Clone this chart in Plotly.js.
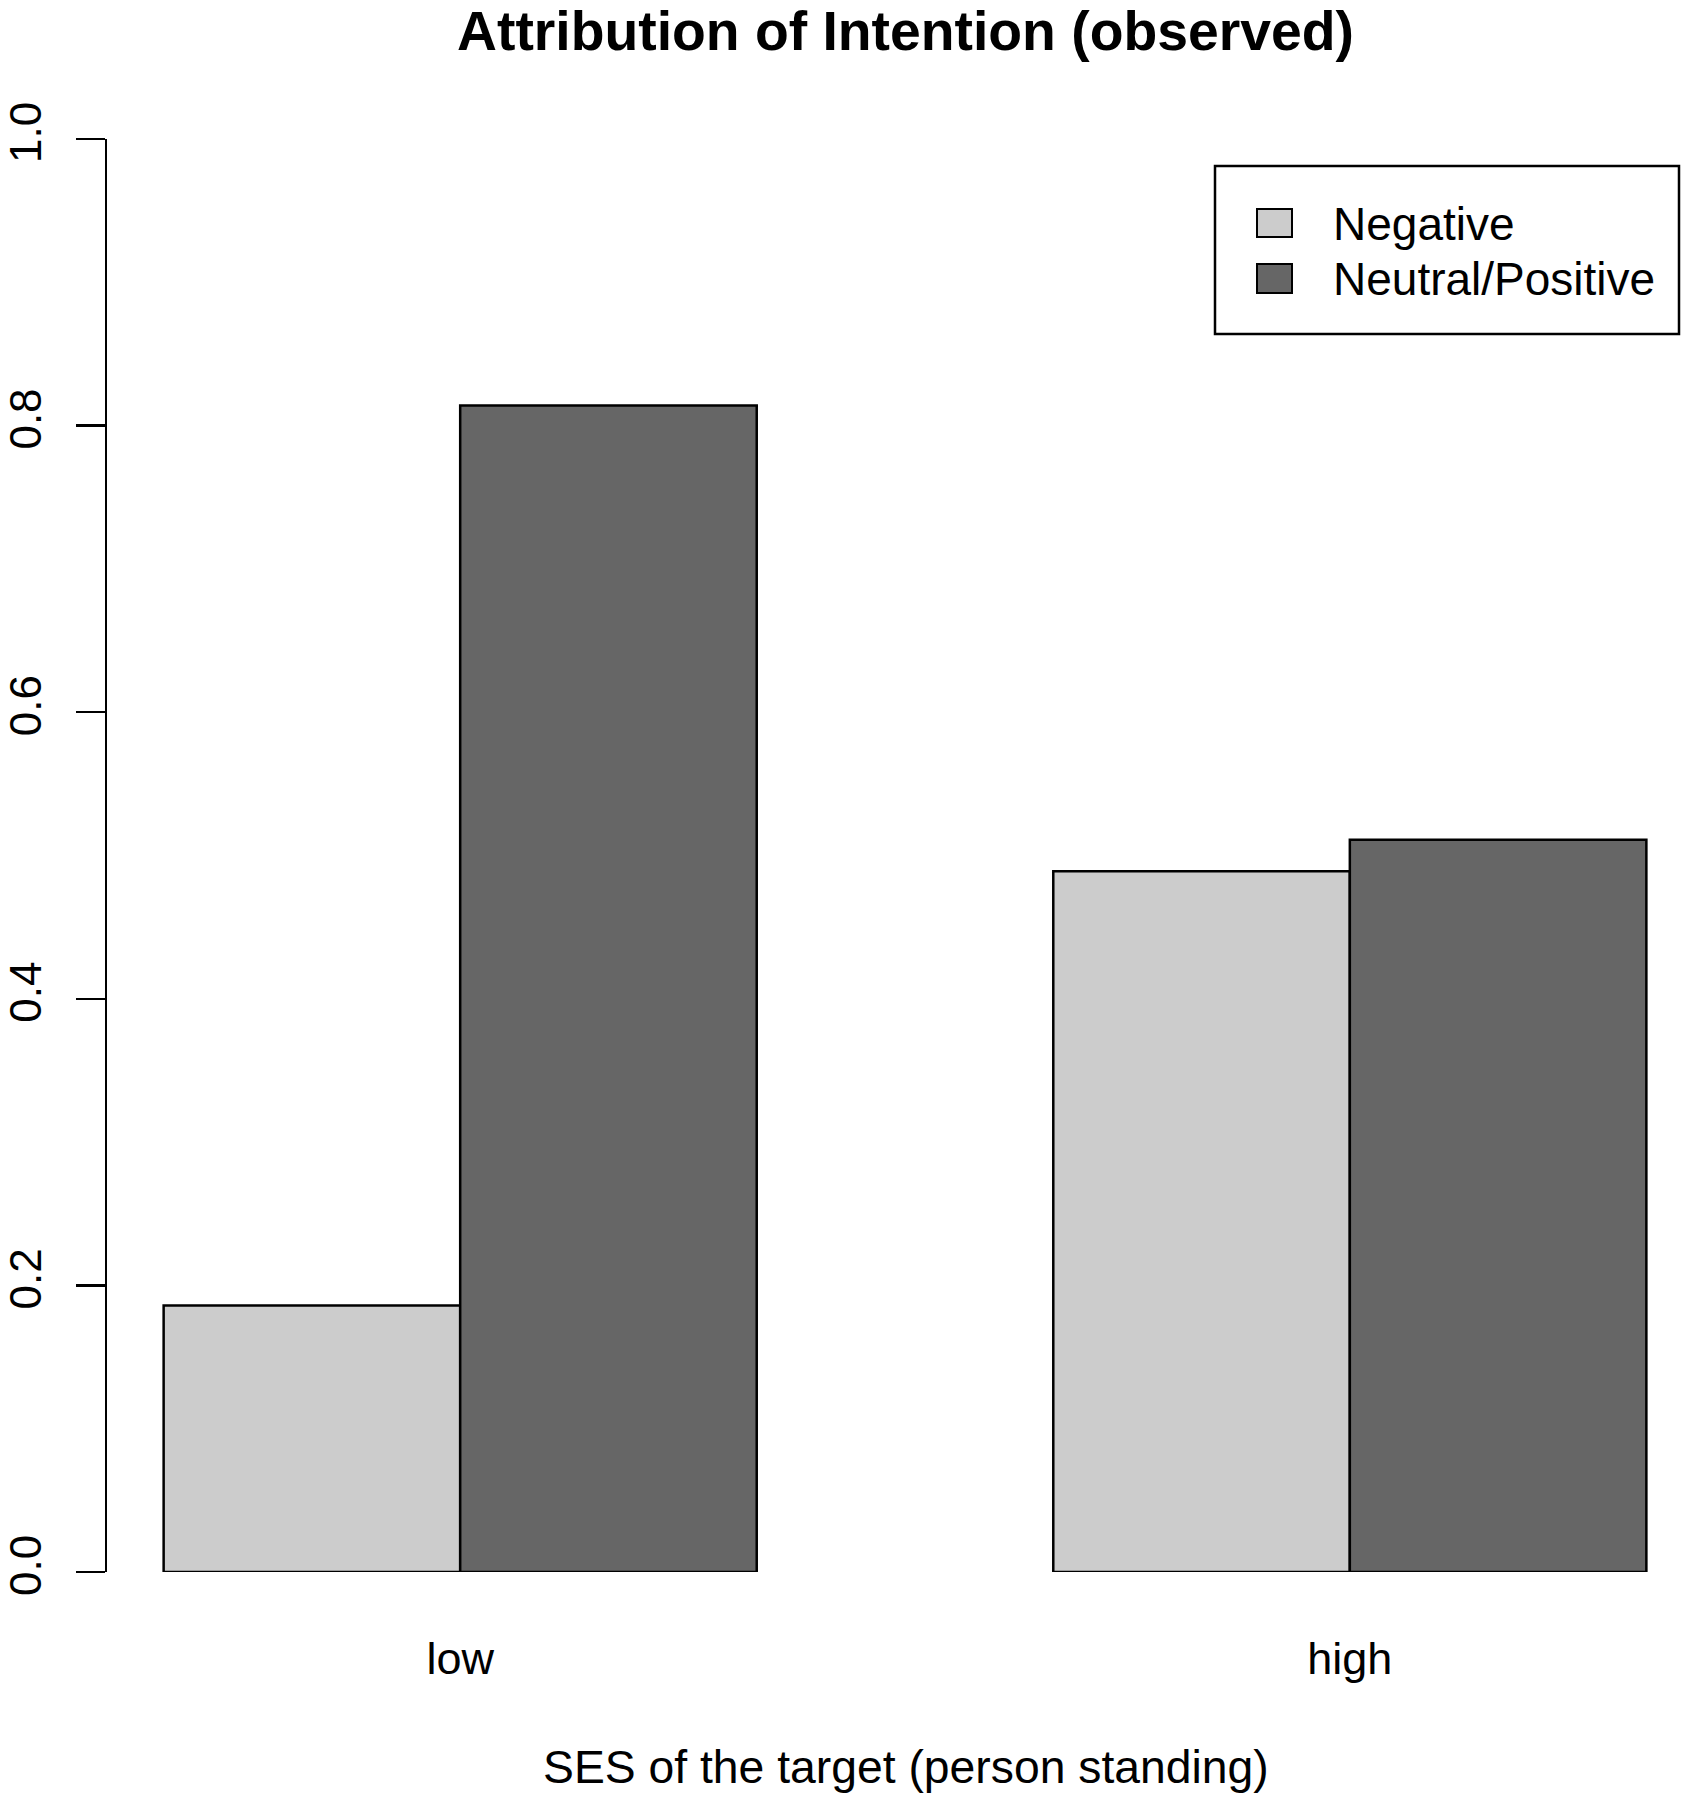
<!DOCTYPE html>
<html>
<head>
<meta charset="utf-8">
<script src="https://cdn.plot.ly/plotly-3.0.1.min.js"></script>
<style>html,body{margin:0;padding:0;background:#fff;}</style>
</head>
<body>
<div id="chart" style="width:1687px;height:1800px;"></div>
<script>
// ---- data ----
const categories = ['low', 'high'];
const seriesNames = ['Negative', 'Neutral/Positive'];
const negative = [0.186, 0.489];
const neutralPositive = [0.814, 0.511];
const seriesColors = ['#cccccc', '#666666'];
const yTickVals = [0, 0.2, 0.4, 0.6, 0.8, 1.0];
const xAxisTitle = 'SES of the target (person standing)';
const chartTitle = 'Attribution of Intention (observed)';

// ---- layout geometry (pixels) ----
const W = 1687, H = 1800;
const L = 107, R = 0, T = 139, B = 228;
const plotW = W - L - R, plotH = H - T - B;
const px = x => (x - L) / plotW;          // pixel x -> paper x
const py = y => (H - B - y) / plotH;      // pixel y -> paper y
const FONT = 'Liberation Sans, Arial, Helvetica, sans-serif';

const seriesValues = [negative, neutralPositive];
const traces = seriesNames.map((name, i) => ({
  type: 'bar',
  name: name,
  x: categories,
  y: seriesValues[i],
  marker: { color: seriesColors[i], line: { color: '#000', width: 2.5 } },
  showlegend: false,
  hoverinfo: 'x+y+name'
}));

// manual legend (R-style box)
const shapes = [{
  type: 'rect', xref: 'paper', yref: 'paper',
  x0: px(1215), x1: px(1679), y0: py(334), y1: py(166),
  line: { color: '#000', width: 2.5 }, fillcolor: '#fff', layer: 'above'
}];
const annotations = [];
const rowY = [[209, 237, 224], [264, 293, 279]];
seriesNames.forEach((name, i) => {
  shapes.push({
    type: 'rect', xref: 'paper', yref: 'paper',
    x0: px(1257), x1: px(1292), y0: py(rowY[i][1]), y1: py(rowY[i][0]),
    line: { color: '#000', width: 2 }, fillcolor: seriesColors[i], layer: 'above'
  });
  annotations.push({
    xref: 'paper', yref: 'paper', x: px(1331), y: py(rowY[i][2]),
    xanchor: 'left', yanchor: 'middle', showarrow: false,
    text: name, font: { family: FONT, size: 46, color: '#000' }
  });
});

// x-axis title placed as in the reference (centred on R's plot region)
annotations.push({
  xref: 'paper', yref: 'paper', x: px(905.5), y: py(1767),
  xanchor: 'center', yanchor: 'middle', showarrow: false,
  text: xAxisTitle, font: { family: FONT, size: 46.3, color: '#000' }
});

const layout = {
  width: W, height: H,
  margin: { l: L, r: R, t: T, b: B, pad: 0 },
  paper_bgcolor: '#fff', plot_bgcolor: '#fff',
  font: { family: FONT, color: '#000' },
  barmode: 'group', bargap: 1 / 3, bargroupgap: 0,
  title: {
    text: '<b>' + chartTitle + '</b>',
    font: { family: FONT, size: 55.3, color: '#000' },
    xref: 'paper', x: px(905.5), xanchor: 'center',
    yref: 'container', y: 1 - 31 / H, yanchor: 'middle'
  },
  xaxis: {
    type: 'category',
    range: [-0.397, 1.379],
    showline: false, showgrid: false, zeroline: false,
    ticks: '', tickfont: { family: FONT, size: 45, color: '#000' },
    ticklabelstandoff: 56
  },
  yaxis: {
    range: [0, 1],
    showline: true, linecolor: '#000', linewidth: 2.5,
    showgrid: false, zeroline: false,
    ticks: 'outside', ticklen: 29, tickwidth: 2.5, tickcolor: '#000',
    tickvals: yTickVals, tickformat: '.1f',
    tickangle: -90,
    tickfont: { family: FONT, size: 44, color: '#000' },
    ticklabelstandoff: 17
  },
  shapes: shapes,
  annotations: annotations
};

Plotly.newPlot('chart', traces, layout, { displayModeBar: false, staticPlot: true });
</script>
</body>
</html>
